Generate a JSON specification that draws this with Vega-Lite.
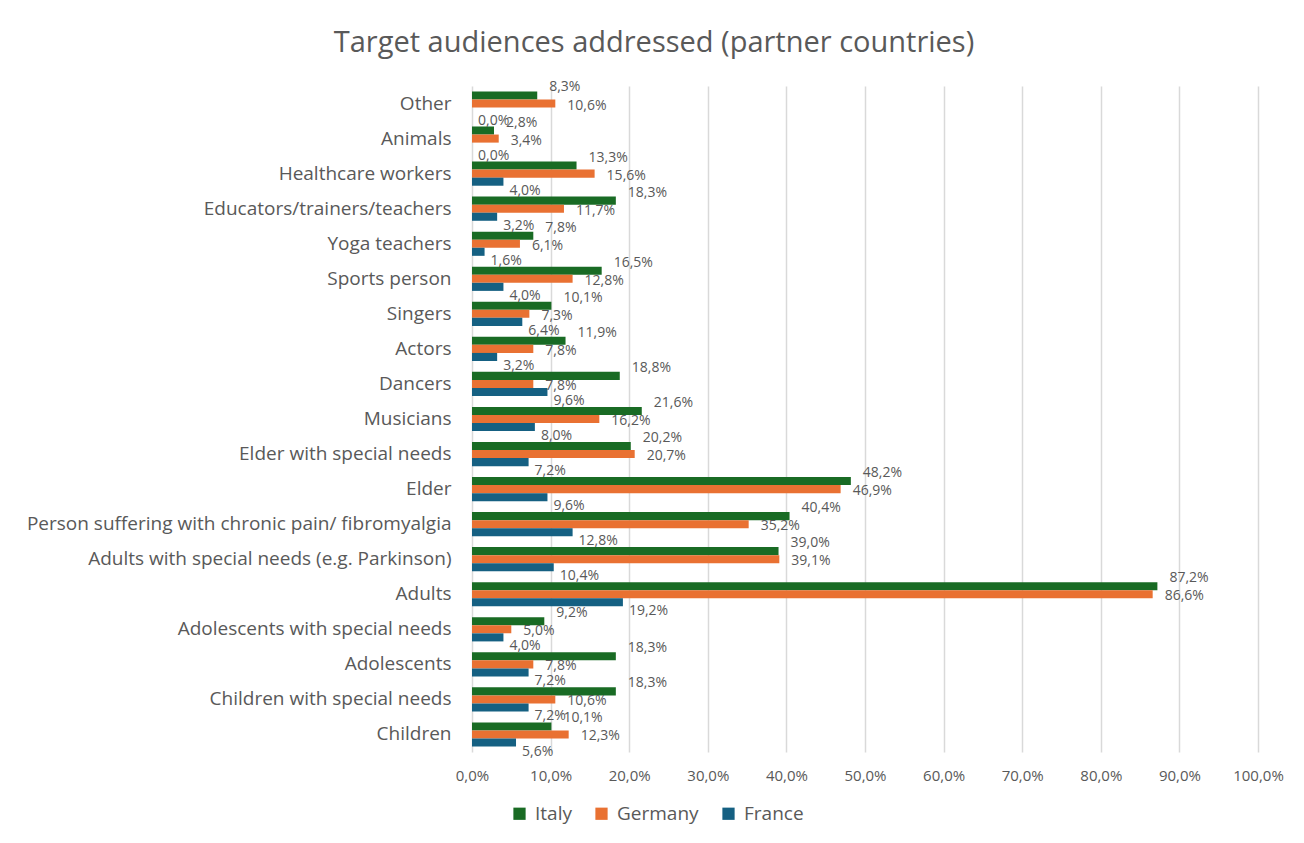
{
  "$schema": "https://vega.github.io/schema/vega-lite/v6.json",
  "autosize": {"type": "none"},
  "width": 786,
  "height": 666,
  "padding": {"left": 472, "top": 86, "right": 46, "bottom": 91},
  "background": "white",
  "title": {
    "text": "Target audiences addressed (partner countries)",
    "anchor": "middle",
    "dx": -211,
    "offset": 22,
    "fontSize": 29,
    "fontWeight": "normal",
    "font": "Open Sans",
    "color": "#595959"
  },
  "data": {
    "values": [
      {"cat": "Other", "country": "Italy", "v": 0.083},
      {"cat": "Other", "country": "Germany", "v": 0.106},
      {"cat": "Other", "country": "France", "v": 0.0},
      {"cat": "Animals", "country": "Italy", "v": 0.028},
      {"cat": "Animals", "country": "Germany", "v": 0.034},
      {"cat": "Animals", "country": "France", "v": 0.0},
      {"cat": "Healthcare workers", "country": "Italy", "v": 0.133},
      {"cat": "Healthcare workers", "country": "Germany", "v": 0.156},
      {"cat": "Healthcare workers", "country": "France", "v": 0.04},
      {"cat": "Educators/trainers/teachers", "country": "Italy", "v": 0.183},
      {"cat": "Educators/trainers/teachers", "country": "Germany", "v": 0.117},
      {"cat": "Educators/trainers/teachers", "country": "France", "v": 0.032},
      {"cat": "Yoga teachers", "country": "Italy", "v": 0.078},
      {"cat": "Yoga teachers", "country": "Germany", "v": 0.061},
      {"cat": "Yoga teachers", "country": "France", "v": 0.016},
      {"cat": "Sports person", "country": "Italy", "v": 0.165},
      {"cat": "Sports person", "country": "Germany", "v": 0.128},
      {"cat": "Sports person", "country": "France", "v": 0.04},
      {"cat": "Singers", "country": "Italy", "v": 0.101},
      {"cat": "Singers", "country": "Germany", "v": 0.073},
      {"cat": "Singers", "country": "France", "v": 0.064},
      {"cat": "Actors", "country": "Italy", "v": 0.119},
      {"cat": "Actors", "country": "Germany", "v": 0.078},
      {"cat": "Actors", "country": "France", "v": 0.032},
      {"cat": "Dancers", "country": "Italy", "v": 0.188},
      {"cat": "Dancers", "country": "Germany", "v": 0.078},
      {"cat": "Dancers", "country": "France", "v": 0.096},
      {"cat": "Musicians", "country": "Italy", "v": 0.216},
      {"cat": "Musicians", "country": "Germany", "v": 0.162},
      {"cat": "Musicians", "country": "France", "v": 0.08},
      {"cat": "Elder with special needs", "country": "Italy", "v": 0.202},
      {"cat": "Elder with special needs", "country": "Germany", "v": 0.207},
      {"cat": "Elder with special needs", "country": "France", "v": 0.072},
      {"cat": "Elder", "country": "Italy", "v": 0.482},
      {"cat": "Elder", "country": "Germany", "v": 0.469},
      {"cat": "Elder", "country": "France", "v": 0.096},
      {"cat": "Person suffering with chronic pain/ fibromyalgia", "country": "Italy", "v": 0.404},
      {"cat": "Person suffering with chronic pain/ fibromyalgia", "country": "Germany", "v": 0.352},
      {"cat": "Person suffering with chronic pain/ fibromyalgia", "country": "France", "v": 0.128},
      {"cat": "Adults with special needs (e.g. Parkinson)", "country": "Italy", "v": 0.39},
      {"cat": "Adults with special needs (e.g. Parkinson)", "country": "Germany", "v": 0.391},
      {"cat": "Adults with special needs (e.g. Parkinson)", "country": "France", "v": 0.104},
      {"cat": "Adults", "country": "Italy", "v": 0.872},
      {"cat": "Adults", "country": "Germany", "v": 0.866},
      {"cat": "Adults", "country": "France", "v": 0.192},
      {"cat": "Adolescents with special needs", "country": "Italy", "v": 0.092},
      {"cat": "Adolescents with special needs", "country": "Germany", "v": 0.05},
      {"cat": "Adolescents with special needs", "country": "France", "v": 0.04},
      {"cat": "Adolescents", "country": "Italy", "v": 0.183},
      {"cat": "Adolescents", "country": "Germany", "v": 0.078},
      {"cat": "Adolescents", "country": "France", "v": 0.072},
      {"cat": "Children with special needs", "country": "Italy", "v": 0.183},
      {"cat": "Children with special needs", "country": "Germany", "v": 0.106},
      {"cat": "Children with special needs", "country": "France", "v": 0.072},
      {"cat": "Children", "country": "Italy", "v": 0.101},
      {"cat": "Children", "country": "Germany", "v": 0.123},
      {"cat": "Children", "country": "France", "v": 0.056}
    ]
  },
  "encoding": {
    "y": {
      "field": "cat",
      "type": "nominal",
      "sort": null,
      "scale": {"paddingInner": 0.31, "paddingOuter": 0.155},
      "axis": {
        "title": null,
        "ticks": false,
        "domain": false,
        "labelFontSize": 19,
        "labelColor": "#595959",
        "labelFont": "Open Sans",
        "labelPadding": 21,
        "labelLimit": 470
      }
    },
    "yOffset": {
      "field": "country",
      "type": "nominal",
      "sort": ["Italy", "Germany", "France"],
      "scale": {"paddingInner": 0}
    },
    "x": {
      "field": "v",
      "type": "quantitative",
      "scale": {"domain": [0, 1]},
      "axis": {
        "title": null,
        "format": ".1%",
        "values": [0, 0.1, 0.2, 0.3, 0.4, 0.5, 0.6, 0.7, 0.8, 0.9, 1.0],
        "labelOverlap": false,
        "labelFlush": false,
        "ticks": false,
        "domain": false,
        "grid": true,
        "gridColor": "#d9d9d9",
        "gridWidth": 1.5,
        "labelFontSize": 15,
        "labelColor": "#595959",
        "labelFont": "Open Sans",
        "labelPadding": 16
      }
    }
  },
  "layer": [
    {
      "mark": {"type": "bar"},
      "encoding": {
        "color": {
          "field": "country",
          "type": "nominal",
          "scale": {"domain": ["Italy", "Germany", "France"], "range": ["#196b24", "#e97132", "#156082"]},
          "legend": {
            "orient": "none",
            "legendX": 38,
            "legendY": 718,
            "direction": "horizontal",
            "title": null,
            "symbolType": "square",
            "symbolSize": 150,
            "symbolStrokeWidth": 0,
            "labelFontSize": 19,
            "labelColor": "#595959",
            "labelFont": "Open Sans",
            "columnPadding": 20,
            "labelOffset": 6
          }
        }
      }
    },
    {
      "transform": [{"filter": "datum.country === 'Italy'"}],
      "mark": {"type": "text", "align": "left", "baseline": "middle", "dx": 12, "dy": -8, "fontSize": 14, "font": "Open Sans", "color": "#595959"},
      "encoding": {"text": {"field": "v", "type": "quantitative", "format": ".1%"}}
    },
    {
      "transform": [{"filter": "datum.country === 'Germany'"}],
      "mark": {"type": "text", "align": "left", "baseline": "middle", "dx": 12, "dy": 2, "fontSize": 14, "font": "Open Sans", "color": "#595959"},
      "encoding": {"text": {"field": "v", "type": "quantitative", "format": ".1%"}}
    },
    {
      "transform": [{"filter": "datum.country === 'France'"}],
      "mark": {"type": "text", "align": "left", "baseline": "middle", "dx": 6, "dy": 9, "fontSize": 14, "font": "Open Sans", "color": "#595959"},
      "encoding": {"text": {"field": "v", "type": "quantitative", "format": ".1%"}}
    }
  ],
  "config": {
    "locale": {
      "number": {"decimal": ",", "thousands": ".", "grouping": [3], "currency": ["", " €"]}
    },
    "view": {"stroke": null}
  }
}
